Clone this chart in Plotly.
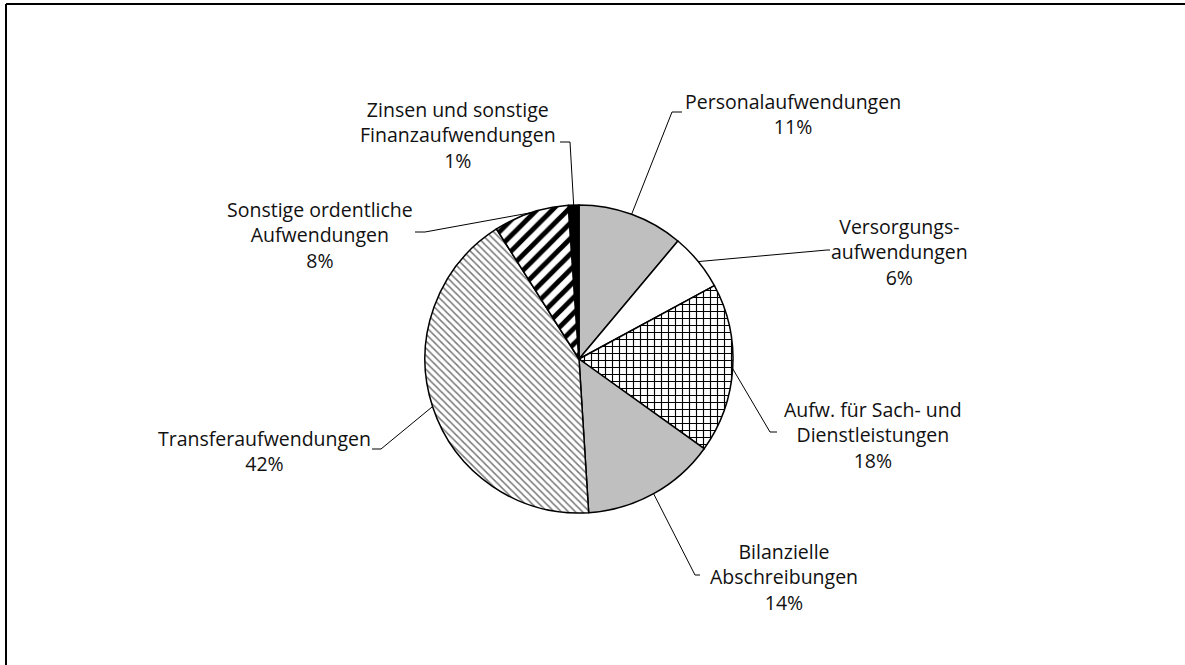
import plotly.graph_objects as go
import math

# ---- data ----
categories = [
    "Personalaufwendungen",
    "Versorgungs-<br>aufwendungen",
    "Aufw. für Sach- und<br>Dienstleistungen",
    "Bilanzielle<br>Abschreibungen",
    "Transferaufwendungen",
    "Sonstige ordentliche<br>Aufwendungen",
    "Zinsen und sonstige<br>Finanzaufwendungen",
]
shares = [11.1, 6.0, 17.8, 14.1, 42.0, 7.9, 1.1]

# ---- styles ----
fill_colors = ["#bfbfbf", "#ffffff", "#ffffff", "#bfbfbf", "#ffffff", "#ffffff", "#000000"]
pattern_shapes = ["", "", "+", "", "\\", "/", ""]
pattern_fg = ["#000000", "#000000", "#000000", "#000000", "#7a7a7a", "#000000", "#000000"]
pattern_size = [8, 8, 7, 8, 5, 11, 8]
pattern_solidity = [0.3, 0.3, 0.3, 0.3, 0.3, 0.45, 0.3]

W, H = 1185, 665
CX, CY, R = 579, 359, 154  # pie centre / radius in pixels (layout)

# label centres and leader elbows in pixels (layout)
label_pos = [(793, 114), (899, 252), (873, 435), (784, 577), (264, 451), (320, 235), (458, 135)]
elbow_pos = [(672, 112), (827, 250), (770, 432), (695, 575), (381, 449), (425, 232), (570, 142)]
elbow_end = [(682, 112), (830, 250), (777, 432), (700, 575), (372, 449), (415, 232), (560, 142)]

FONT = "Open Sans"
FS = 19.5


def px(x):
    return x / W


def py(y):
    return 1 - y / H


total = sum(shares)
fig = go.Figure()
fig.add_trace(go.Pie(
    labels=categories,
    values=shares,
    sort=False,
    direction="clockwise",
    rotation=0,
    textinfo="none",
    hoverinfo="label+percent",
    showlegend=False,
    domain=dict(x=[px(CX - R), px(CX + R)], y=[py(CY + R), py(CY - R)]),
    marker=dict(
        colors=fill_colors,
        line=dict(color="#000000", width=1.5),
        pattern=dict(
            shape=pattern_shapes,
            fgcolor=pattern_fg,
            bgcolor=fill_colors,
            size=pattern_size,
            solidity=pattern_solidity,
            fillmode="replace",
        ),
    ),
))

annotations = []
shapes = []
cum = 0.0
for i, (name, v) in enumerate(zip(categories, shares)):
    mid = (cum + v / 2) / total * 2 * math.pi
    cum += v
    ex = CX + R * math.sin(mid)
    ey = CY - R * math.cos(mid)
    pct = round(v / total * 100)
    lx, ly = label_pos[i]
    annotations.append(dict(
        x=px(lx), y=py(ly), xref="paper", yref="paper",
        text=f"{name}<br>{pct}%", showarrow=False,
        xanchor="center", yanchor="middle", align="center",
        font=dict(family=FONT, size=FS, color="#111111"),
    ))
    bx, by = elbow_pos[i]
    hx, hy = elbow_end[i]
    shapes.append(dict(
        type="path", xref="paper", yref="paper",
        path=f"M {px(ex)},{py(ey)} L {px(bx)},{py(by)} L {px(hx)},{py(hy)}",
        line=dict(color="#000000", width=1),
    ))

# frame (top and left border)
shapes.append(dict(type="line", xref="paper", yref="paper",
                   x0=px(6), y0=py(4), x1=1.0, y1=py(4),
                   line=dict(color="#000000", width=2)))
shapes.append(dict(type="line", xref="paper", yref="paper",
                   x0=px(6), y0=py(4), x1=px(6), y1=0.0,
                   line=dict(color="#000000", width=2)))

fig.update_layout(
    width=W,
    height=H,
    autosize=False,
    margin=dict(l=0, r=0, t=0, b=0),
    paper_bgcolor="#ffffff",
    plot_bgcolor="#ffffff",
    annotations=annotations,
    shapes=shapes,
)

fig.write_html(
    "out.html",
    config={"displayModeBar": False},
    post_script="document.body.style.margin='0';document.body.style.overflow='hidden';",
)
